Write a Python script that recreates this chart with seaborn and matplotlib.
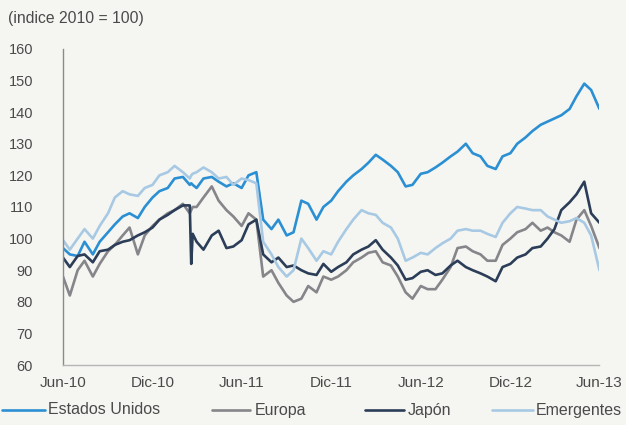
import pandas as pd
import numpy as np
import matplotlib
matplotlib.use('Agg')
import matplotlib.pyplot as plt
import seaborn as sns

# Fechas (quincenales, con dos puntos extra para la caida de Japon en feb-11)
dates = [
    '2010-06-01', '2010-06-15', '2010-07-01', '2010-07-15', '2010-08-01', '2010-08-15',
    '2010-09-01', '2010-09-15', '2010-10-01', '2010-10-15', '2010-11-01', '2010-11-15',
    '2010-12-01', '2010-12-15', '2011-01-01', '2011-01-15', '2011-02-01', '2011-02-15',
    '2011-02-18', '2011-02-21',
    '2011-03-01', '2011-03-15', '2011-04-01', '2011-04-15', '2011-05-01', '2011-05-15',
    '2011-06-01', '2011-06-15', '2011-07-01', '2011-07-15', '2011-08-01', '2011-08-15',
    '2011-09-01', '2011-09-15', '2011-10-01', '2011-10-15', '2011-11-01', '2011-11-15',
    '2011-12-01', '2011-12-15', '2012-01-01', '2012-01-15', '2012-02-01', '2012-02-15',
    '2012-03-01', '2012-03-15', '2012-04-01', '2012-04-15', '2012-05-01', '2012-05-15',
    '2012-06-01', '2012-06-15', '2012-07-01', '2012-07-15', '2012-08-01', '2012-08-15',
    '2012-09-01', '2012-09-15', '2012-10-01', '2012-10-15', '2012-11-01', '2012-11-15',
    '2012-12-01', '2012-12-15', '2013-01-01', '2013-01-15', '2013-02-01', '2013-02-15',
    '2013-03-01', '2013-03-15', '2013-04-01', '2013-04-15', '2013-05-01', '2013-05-15',
    '2013-06-01',
]

estados_unidos = [
    97, 95, 94.5, 99, 95, 99, 102, 104.5, 107, 108, 106.5, 110,
    113, 115, 116, 119, 119.5, 117,
    117.5, 117,
    116, 119, 119.5, 118, 116.5, 117.5,
    116, 120, 121, 106, 103, 106, 101, 102, 112, 111, 106, 110,
    112, 115, 118, 120, 122, 124, 126.5, 125, 123, 121, 116.5, 117,
    120.5, 121, 122.5, 124, 126, 127.5, 130, 127, 126, 123, 122, 126,
    127, 130, 132, 134, 136, 137, 138, 139, 141, 145, 149, 147,
    141,
]

europa = [
    88, 82, 90, 93, 88, 92, 96, 98, 101, 103.5, 95, 101,
    104, 106, 108, 109, 111, 108,
    109, 110,
    110, 113, 116.5, 112, 109, 107,
    104, 108, 106, 88, 90, 86, 82, 80, 81, 85, 83, 88,
    87, 88, 90, 92.5, 94, 95.5, 96, 92.5, 91.5, 88, 83, 81,
    85, 84, 84, 87, 91, 97, 97.5, 96, 95, 93, 93, 98,
    100, 102, 103, 105, 102.5, 103.5, 102, 101, 99, 106, 109, 104,
    97,
]

japon = [
    94, 91, 94.5, 95, 92.5, 96, 96.5, 98, 99, 99.5, 101, 102,
    103.5, 106, 107.5, 109, 110.5, 110.5,
    92, 101.5,
    99, 96.5, 101, 102.5, 97, 97.5,
    99.5, 104.5, 106, 95, 92.5, 94, 91, 91.5, 90, 89, 88.5, 92,
    89.5, 91, 92.5, 95, 96.5, 97.5, 99.5, 96.5, 94, 91.5, 87, 87.5,
    89.5, 90, 88.5, 89, 91.5, 93, 91, 90, 89, 88, 86.5, 91,
    92, 94, 95, 97, 97.5, 100, 103, 109, 111.5, 114, 118, 108,
    105,
]

emergentes = [
    99.5, 96.5, 100, 103, 100, 104, 108, 113, 115, 114, 113.5, 116,
    117, 120, 121, 123, 121, 119,
    120, 120.5,
    121, 122.5, 121, 119, 119.5, 117,
    119, 118.5, 117.5, 99, 95, 91, 88, 90, 100, 97, 93, 96,
    95, 99, 103, 106, 109, 108, 107.5, 105, 103.5, 100, 93, 94,
    95.5, 95, 97, 98.5, 100, 102.5, 103, 102.5, 102.5, 101.5, 100.5, 105,
    108, 110, 109.5, 109, 109, 107, 106, 105, 105.5, 106.5, 105, 101,
    90,
]

series_names = ['Estados Unidos', 'Europa', 'Japón', 'Emergentes']
colors = ['#2b8fd3', '#85858a', '#2c3d58', '#a8c9e3']

tick_dates = ['2010-06-01', '2010-12-01', '2011-06-01', '2011-12-01',
              '2012-06-01', '2012-12-01', '2013-06-01']
tick_labels = ['Jun-10', 'Dic-10', 'Jun-11', 'Dic-11', 'Jun-12', 'Dic-12', 'Jun-13']

df = pd.DataFrame({
    'fecha': pd.to_datetime(dates),
    'Estados Unidos': estados_unidos,
    'Europa': europa,
    'Japón': japon,
    'Emergentes': emergentes,
})
long_df = df.melt(id_vars='fecha', var_name='serie', value_name='valor')

sns.set_theme(style='white')
plt.rcParams['font.family'] = ['Liberation Sans', 'DejaVu Sans']

bg = '#f5f6f2'
text_col = '#4a4a4a'

fig = plt.figure(figsize=(6.26, 4.25), dpi=100)
fig.patch.set_facecolor(bg)
ax = fig.add_axes([0.1006, 0.141, 0.857, 0.744])
ax.set_facecolor(bg)

sns.lineplot(data=long_df, x='fecha', y='valor', hue='serie',
             hue_order=series_names, palette=colors, linewidth=1.9,
             legend=False, ax=ax)

ax.set_xlim(pd.Timestamp('2010-06-01'), pd.Timestamp('2013-06-01'))
ax.set_ylim(60, 160)
ax.set_yticks(np.arange(60, 161, 10))
ax.set_xticks(pd.to_datetime(tick_dates))
ax.set_xticklabels(tick_labels)
ax.set_xlabel('')
ax.set_ylabel('')

for s in ['top', 'right']:
    ax.spines[s].set_visible(False)
ax.spines['left'].set_color('#8a8a8a')
ax.spines['bottom'].set_color('#b5b5b5')
ax.spines['left'].set_linewidth(1.0)
ax.spines['bottom'].set_linewidth(1.0)
ax.tick_params(axis='both', direction='in', length=4, width=0.8,
               colors='#8a8a8a', labelcolor=text_col, labelsize=10.5)
ax.tick_params(axis='y', pad=21.5)
ax.tick_params(axis='x', pad=8, labelsize=11)

fig.text(0.013, 0.957, '(indice 2010 = 100)', fontsize=11.3, color=text_col,
         ha='left', va='center')

# leyenda inferior, colocada a mano como en el original
legend_y = 1 - 410 / 425
legend_pos = [(2, 45, 48), (212, 250, 255), (365, 404, 408), (492, 533, 536)]
for (x0, x1, xt), name, c in zip(legend_pos, series_names, colors):
    fig.add_artist(plt.Line2D([x0 / 626, x1 / 626], [legend_y, legend_y],
                              transform=fig.transFigure, color=c, lw=1.9))
    fig.text(xt / 626, legend_y, name, fontsize=11.5, color=text_col,
             ha='left', va='center')

fig.savefig('out.png', dpi=100, facecolor=fig.get_facecolor())
